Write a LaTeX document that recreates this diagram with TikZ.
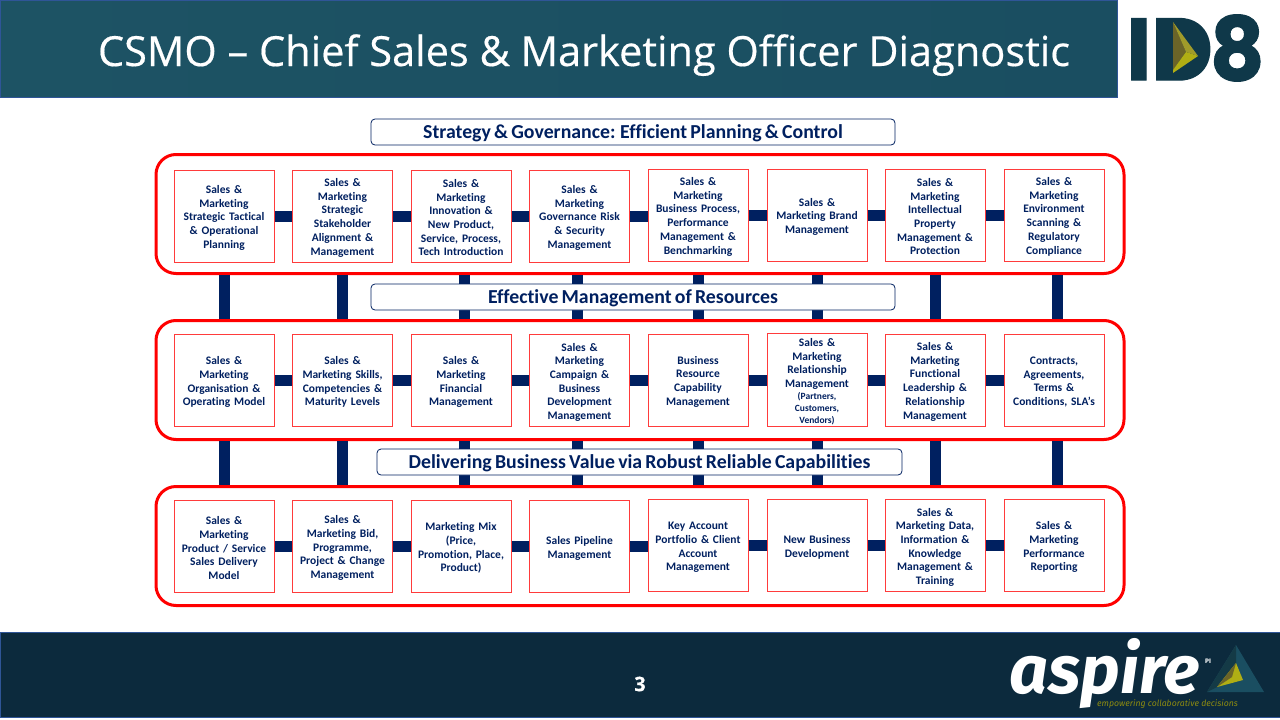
\documentclass[tikz,border=0pt]{standalone}
\usepackage{fontspec}
\setmainfont[WordSpace=0.72,Ligatures=NoCommon]{Carlito}
\newfontfamily\titlefont[FakeBold=0.4]{Open Sans}
\newfontfamily\logofont[BoldFeatures={FakeBold=1.3}]{Poppins}
\newfontfamily\aspirefont{Fira Sans}
\definecolor{navy}{HTML}{002060}
\definecolor{boxred}{HTML}{FF3B3B}
\definecolor{bandL}{HTML}{1D5364}
\definecolor{bandR}{HTML}{1A4E61}
\definecolor{bandedge}{HTML}{2F5597}
\definecolor{footband}{HTML}{0C2A3D}
\definecolor{logoteal}{HTML}{0F3849}
\definecolor{olive}{HTML}{B0AE14}
\definecolor{olivemid}{HTML}{A09B2A}
\definecolor{olivedark}{HTML}{6B6428}
\tikzset{
  funcbox/.style={draw=boxred,line width=1pt,fill=white,minimum width=100pt,minimum height=92pt,inner sep=1pt,
    text width=96pt,align=center,text=navy,font=\fontsize{11.5}{13.7}\selectfont\bfseries,
    execute at begin node={\leavevmode\rule{0pt}{11.5pt}}},
  rowbox/.style={draw=red,line width=3pt,fill=white,rounded corners=20pt,minimum width=968pt,minimum height=119pt},
  banner/.style={draw=navy,line width=0.8pt,fill=white,rounded corners=4pt,minimum height=26pt,text height=15pt,text depth=2pt,
    text=navy,font=\fontsize{19.8}{22}\selectfont\bfseries},
  hlink/.style={navy,line width=11pt},
  vlink/.style={navy,line width=11pt}
}
\begin{document}
\begin{tikzpicture}[x=1pt,y=-1pt]
  \useasboundingbox (0,0) rectangle (1280,720);
  % header and footer
  \shade[left color=bandL,right color=bandR,draw=bandedge,line width=1pt] (0.5,0.5) rectangle (1117,97.5);
  \fill[footband,draw=bandedge,line width=1pt] (0.5,632) rectangle (1281,717);
  \node[font=\titlefont\fontsize{41.5}{46}\selectfont,text=white,anchor=base] (title) at (584,66) {CSMO – Chief Sales \& Marketing Officer Diagnostic};
  \node[font=\titlefont\bfseries\fontsize{20}{24}\selectfont,text=white] (pageno) at (640,684) {3};
  % ID8 logo
  \node[font=\logofont\bfseries\fontsize{88}{88}\selectfont,text=logoteal,inner sep=0pt,anchor=center] (idlogo) at (1195.5,48) {\scalebox{0.96}[1]{ID\kern-3pt 8}};
  \fill[logoteal] (1160,28) rectangle (1195,68);
  \fill[olivedark] (1173,22) -- (1186,52) -- (1173,70) -- cycle;
  \fill[olivemid] (1173,22) -- (1198,56) -- (1186,52) -- cycle;
  \fill[olive] (1173,70) -- (1186,52) -- (1198,56) -- (1173,73) -- cycle;
  % aspire logo
  \node[font=\aspirefont\bfseries\itshape\fontsize{68}{68}\selectfont,text=white,inner sep=0pt] (aspire) at (1105,674) {aspire};
  \node[font=\aspirefont\bfseries\fontsize{6.5}{7}\selectfont,text=white,inner sep=0pt] (pi) at (1208,661) {PI};
  \node[font=\aspirefont\itshape\fontsize{8.7}{10}\selectfont,text=olive!80!black,inner sep=0pt] (tagline) at (1167.5,704) {empowering collaborative decisions};
  \fill[bandR] (1236,645) -- (1264,692) -- (1207,692) -- cycle;
  \fill[bandL!70!black] (1236,645) -- (1236,663) -- (1217,687) -- (1207,692) -- cycle;
  \fill[olive] (1236,663) -- (1243,680) -- (1217,687) -- cycle;
  \fill[olivedark] (1236,663) -- (1232,677) -- (1217,687) -- cycle;
  % rows
  \node[rowbox] (rowa) at (640,214) {};
  \node[rowbox] (rowb) at (640,380) {};
  \node[rowbox] (rowc) at (640,546) {};
  \foreach \xpos in {224,342.5,464,577,698,817,935,1057}{
    \draw[vlink] (rowa.south -| \xpos,0) -- (rowb.north -| \xpos,0);
    \draw[vlink] (rowb.south -| \xpos,0) -- (rowc.north -| \xpos,0);
  }
  % banners
  \node[banner,minimum width=524pt] (bana) at (633,132) {Strategy \& Governance: Efficient Planning \& Control};
  \node[banner,minimum width=524pt] (banb) at (633,297) {Effective Management of Resources};
  \node[banner,minimum width=525pt] (banc) at (639.5,462) {Delivering Business Value via Robust Reliable Capabilities};
  % first row
  \node[funcbox] (a1) at (224,216) {Sales \&\\Marketing\\Strategic Tactical\\\& Operational\\Planning};
  \node[funcbox] (a2) at (342.5,216) {Sales \&\\Marketing\\Strategic\\Stakeholder\\Alignment \&\\Management};
  \node[funcbox] (a3) at (461,216) {Sales \&\\Marketing\\Innovation \&\\New Product,\\Service, Process,\\Tech Introduction};
  \node[funcbox] (a4) at (579.5,216) {Sales \&\\Marketing\\Governance Risk\\\& Security\\Management};
  \node[funcbox] (a5) at (698,215) {Sales \&\\Marketing\\Business Process,\\Performance\\Management \&\\Benchmarking};
  \node[funcbox] (a6) at (817,215) {Sales \&\\Marketing Brand\\Management};
  \node[funcbox] (a7) at (935,215) {Sales \&\\Marketing\\Intellectual\\Property\\Management \&\\Protection};
  \node[funcbox] (a8) at (1054,215) {Sales \&\\Marketing\\Environment\\Scanning \&\\Regulatory\\Compliance};
  % second row
  \node[funcbox] (b1) at (224,380.5) {Sales \&\\Marketing\\Organisation \&\\Operating Model};
  \node[funcbox] (b2) at (342.5,380.5) {Sales \&\\Marketing Skills,\\Competencies \&\\Maturity Levels};
  \node[funcbox] (b3) at (461,380.5) {Sales \&\\Marketing\\Financial\\Management};
  \node[funcbox] (b4) at (579.5,380.5) {Sales \&\\Marketing\\Campaign \&\\Business\\Development\\Management};
  \node[funcbox] (b5) at (698,380) {Business\\Resource\\Capability\\Management};
  \node[funcbox] (b6) at (817,380) {Sales \&\\Marketing\\Relationship\\Management\\{\fontsize{9.5}{12}\selectfont (Partners,\\Customers,\\Vendors)\par}};
  \node[funcbox] (b7) at (935,380) {Sales \&\\Marketing\\Functional\\Leadership \&\\Relationship\\Management};
  \node[funcbox] (b8) at (1054,380) {Contracts,\\Agreements,\\Terms \&\\Conditions, SLA’s};
  % third row
  \node[funcbox] (c1) at (224,546.5) {Sales \&\\Marketing\\Product / Service\\Sales Delivery\\Model};
  \node[funcbox] (c2) at (342.5,546.5) {Sales \&\\Marketing Bid,\\Programme,\\Project \& Change\\Management};
  \node[funcbox] (c3) at (461,546.5) {Marketing Mix\\(Price,\\Promotion, Place,\\Product)};
  \node[funcbox] (c4) at (579.5,546.5) {Sales Pipeline\\Management};
  \node[funcbox] (c5) at (698,545.5) {Key Account\\Portfolio \& Client\\Account\\Management};
  \node[funcbox] (c6) at (817,545.5) {New Business\\Development};
  \node[funcbox] (c7) at (935,545.5) {Sales \&\\Marketing Data,\\Information \&\\Knowledge\\Management \&\\Training};
  \node[funcbox] (c8) at (1054,545.5) {Sales \&\\Marketing\\Performance\\Reporting};
  \foreach \r in {a,b,c}{
    \foreach \i [remember=\i as \j (initially 1)] in {2,...,8}{
      \draw[hlink] (\r\j.east) -- (\r\j.east -| \r\i.west);
    }
  }
\end{tikzpicture}
\end{document}
